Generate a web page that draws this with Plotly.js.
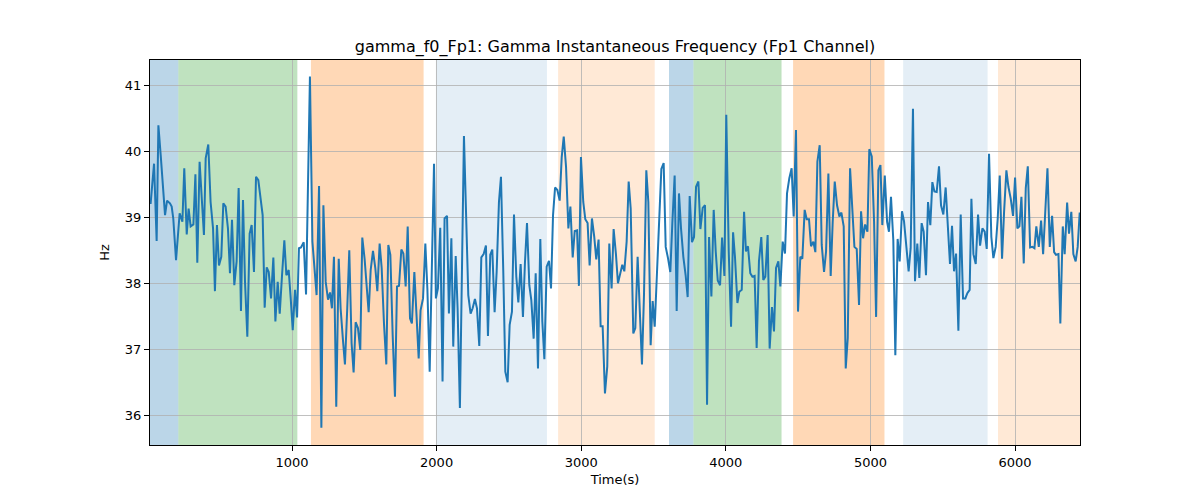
<!DOCTYPE html>
<html>
<head>
<meta charset="utf-8">
<script src="https://cdn.plot.ly/plotly-3.0.1.min.js"></script>
<style>html,body{margin:0;padding:0;background:#fff;}#chart{width:1200px;height:500px;}</style>
</head>
<body>
<div id="chart"></div>
<script>
// ---- data ----
const time = [
22,46,64,76,92,106,122,136,156,168,179,198,214,223,242,255,272,285,299,318,332,345,361,391,403,421,437,454,467,481,495,511,525,541,557,571,585,601,617,631,647,661,675,691,707,721,737,751,767,783,797,811,825,839,855,871,885,901,915,931,947,961,977,991,1005,1021,1035,1048,1062,1081,1097,1124,
1141,1170,1187,1203,1217,1233,1249,1263,1276,1290,1306,1323,1336,1353,1366,1382,1396,1412,1426,1440,1456,1472,1486,1502,1516,1530,1544,1560,1576,1590,1606,1620,1636,1652,1666,1680,1696,1712,1726,1740,1756,1770,1786,1800,1816,1829,1846,1859,1876,1889,1906,1922,1936,1952,1968,1982,1995,2009,2025,2041,2055,2072,2085,2102,2115,2132,2145,2161,2175,2189,
2219,2235,2249,2265,2279,2295,2309,2325,2341,2355,2371,2385,2401,2415,2431,2445,2461,2475,2491,2505,2521,2535,2551,2565,2581,2597,2611,2625,2641,2655,2671,2685,2701,2717,2731,2745,2761,2777,2791,2805,2819,2835,2851,2865,2879,2895,2911,2925,2941,2955,2971,2984,2998,3014,3028,3044,3058,3074,3090,3104,3120,3134,3148,3164,3180,3194,3210,3224,3240,3254,3268,
3284,3298,3314,3328,3342,3360,3374,3390,3404,3420,3434,3450,3464,3480,3494,3508,3524,3538,3554,3570,3584,3600,3616,3630,3646,3660,3676,3690,3706,3722,3736,3750,3766,3780,3794,3810,3824,3840,3856,3870,3884,3900,3916,3930,3944,3960,3974,3990,4003,4020,4036,4050,4063,4080,4093,4110,4126,4139,4153,4169,4183,4199,4213,4229,4245,4259,4273,4289,4303,4319,4333,
4347,4363,4377,4393,4409,4423,4439,4455,4469,4485,4499,4515,4529,4545,4559,4575,4589,4605,4619,4633,4649,4663,4679,4693,4709,4725,4739,4753,4769,4785,4799,4815,4829,4843,4859,4875,4889,4905,4921,4935,4949,4963,4979,4992,5009,5025,5039,5055,5069,5082,5099,5115,5128,5142,5158,5172,5188,5202,5218,5232,5248,5264,5278,5294,5308,5324,5338,5354,5368,5384,5398,
5414,5428,5442,5458,5474,5488,5504,5520,5534,5550,5564,5578,5592,5608,5624,5640,5656,5670,5686,5698,5712,5728,5744,5758,5774,5790,5804,5820,5836,5850,5866,5880,5894,5910,5924,5940,5954,5970,5986,6000,6016,6030,6044,6060,6074,6088,6104,6120,6134,6147,6164,6180,6194,6210,6224,6240,6256,6270,6283,6300,6313,6330,6343,6360,6373,6389,6403,6419,6433,6447
];
const hz = [
39.2,39.81,38.64,40.39,39.94,39.44,39.03,39.25,39.21,39.16,38.98,38.35,38.78,39.06,38.93,39.74,38.74,39.13,38.86,38.89,39.65,38.31,39.84,38.73,39.89,40.10,39.23,38.83,37.88,38.88,38.27,38.40,39.21,39.16,38.83,38.15,38.96,37.97,38.33,39.44,37.58,39.26,38.02,37.19,38.75,38.88,38.17,39.61,39.56,39.23,39.03,37.63,38.24,38.17,37.77,38.39,37.42,38.02,37.54,38.12,38.65,38.12,38.20,37.77,37.29,37.90,37.48,38.53,38.54,38.62,37.83,41.13,
38.63,37.82,39.47,35.81,39.18,38.02,37.75,37.86,37.62,38.40,36.13,38.37,37.62,37.12,36.77,37.62,38.50,37.09,36.65,37.41,37.32,36.99,38.69,38.37,37.97,37.56,38.20,38.49,38.23,37.88,38.60,38.23,37.39,36.77,38.58,38.43,37.22,36.28,37.95,37.96,38.51,38.45,37.95,38.86,37.47,37.39,38.17,37.67,36.86,37.59,37.77,38.60,37.92,36.66,38.48,39.81,37.77,37.92,38.84,36.51,38.98,39.02,37.54,38.68,37.04,38.41,37.62,36.11,38.17,40.23,
37.82,37.54,37.62,37.76,37.62,37.05,38.39,38.44,38.57,37.20,38.43,38.51,37.56,38.17,39.23,39.61,38.17,36.66,36.50,37.37,37.57,39.04,38.10,37.71,38.29,37.49,38.32,38.91,37.97,37.74,37.16,38.15,36.71,38.67,37.42,36.85,38.25,38.34,37.92,39.03,39.45,39.41,39.25,39.91,40.22,39.76,38.83,39.16,38.39,38.79,38.80,37.96,39.91,39.23,38.97,38.91,38.27,38.98,38.70,38.36,38.66,37.35,37.35,36.33,36.74,38.60,37.92,38.82,38.44,38.00,38.13,
38.28,38.18,38.63,39.54,39.13,37.24,37.32,38.40,37.57,36.77,37.82,39.71,39.23,37.06,37.73,37.34,38.17,38.93,39.73,39.82,38.55,38.38,38.17,38.91,39.63,37.58,39.36,38.83,38.40,38.12,37.79,39.32,38.62,38.70,39.46,39.54,38.82,39.14,39.18,36.16,38.70,37.80,39.11,38.48,38.04,37.97,38.69,38.11,40.55,38.48,37.34,38.77,38.40,37.70,37.87,37.90,39.08,38.48,38.56,38.15,38.10,38.11,37.02,38.33,38.70,38.05,38.10,38.73,37.01,37.64,37.27,
38.23,38.33,37.95,38.63,38.45,39.36,39.59,39.74,39.01,40.32,37.57,38.40,38.37,39.11,38.97,38.97,38.56,38.63,38.47,39.84,40.09,38.58,38.17,38.48,39.66,38.11,38.93,39.54,39.18,39.01,39.07,38.86,36.71,37.17,39.74,38.98,38.55,38.52,37.67,39.09,38.68,38.89,38.78,40.03,39.92,38.93,37.49,39.71,39.79,38.88,39.63,38.93,38.78,39.31,38.65,36.91,38.67,38.33,39.09,38.94,38.53,38.18,38.53,40.64,38.03,38.60,38.08,38.91,38.78,38.12,39.23,
38.88,39.53,39.39,39.38,39.77,39.18,39.04,39.45,38.83,38.29,38.87,38.18,38.45,37.28,39.04,37.77,37.77,37.85,37.90,39.28,38.44,38.29,39.04,38.57,38.83,38.78,38.52,39.96,38.70,38.38,38.55,38.98,39.63,38.37,39.08,39.71,39.46,39.28,39.02,39.60,38.83,38.86,39.31,38.30,39.44,39.77,38.54,38.55,38.53,38.86,38.55,38.95,38.44,39.19,39.74,38.55,39.02,38.47,38.43,38.44,37.39,38.86,38.44,39.22,38.75,39.08,38.44,38.33,38.55,39.07
];
// shaded segments (start, end, band kind)
const spanStart = [18, 214, 1131, 1995, 2840, 3607, 3776, 4465, 5226, 5882];
const spanEnd   = [214, 1037, 1910, 2763, 3508, 3776, 4385, 5097, 5810, 6449];
const spanKind  = ['blue', 'green', 'orange', 'lightblue', 'lightorange', 'blue', 'green', 'orange', 'lightblue', 'lightorange'];
const xTicks = [1000, 2000, 3000, 4000, 5000, 6000];
const yTicks = [36, 37, 38, 39, 40, 41];
const titleText = 'gamma_f0_Fp1: Gamma Instantaneous Frequency (Fp1 Channel)';
const xLabel = 'Time(s)';
const yLabel = 'Hz';

// ---- styling ----
const kindColor = {
  blue: 'rgba(31,119,180,0.30)',
  green: 'rgba(44,160,44,0.30)',
  orange: 'rgba(255,127,14,0.30)',
  lightblue: 'rgba(31,119,180,0.12)',
  lightorange: 'rgba(255,127,14,0.17)'
};
const shapes = spanStart.map((s, i) => ({
  type: 'rect', xref: 'x', yref: 'paper',
  x0: s, x1: spanEnd[i], y0: 0, y1: 1,
  fillcolor: kindColor[spanKind[i]],
  line: {width: 0},
  layer: 'below'
}));

const font = {family: 'DejaVu Sans, sans-serif', color: '#000'};

const trace = {
  x: time, y: hz, type: 'scatter', mode: 'lines',
  line: {color: '#1f77b4', width: 2},
  hoverinfo: 'skip'
};

const axisCommon = {
  showline: true, mirror: true, linecolor: '#000', linewidth: 1,
  ticks: 'outside', ticklen: 5, tickwidth: 1, tickcolor: '#000',
  showgrid: true, gridcolor: '#b0b0b0', gridwidth: 0.8,
  zeroline: false,
  tickfont: Object.assign({size: 13}, font)
};

const layout = {
  width: 1200, height: 500,
  margin: {l: 150, r: 120, t: 60, b: 55, autoexpand: false},
  paper_bgcolor: '#fff', plot_bgcolor: '#fff',
  showlegend: false,
  font: font,
  title: {text: titleText, x: 0.5125, xref: 'container', xanchor: 'center',
          y: 0.908, yref: 'container', yanchor: 'middle',
          font: Object.assign({size: 16}, font)},
  xaxis: Object.assign({}, axisCommon, {
    range: [18, 6449], tickvals: xTicks, ticktext: xTicks.map(String),
    title: {text: xLabel, standoff: 6, font: Object.assign({size: 13}, font)}
  }),
  yaxis: Object.assign({}, axisCommon, {
    range: [35.55, 41.38], tickvals: yTicks, ticktext: yTicks.map(String),
    title: {text: yLabel, standoff: 12, font: Object.assign({size: 13}, font)}
  }),
  shapes: shapes
};

Plotly.newPlot('chart', [trace], layout, {staticPlot: true, displayModeBar: false});
</script>
</body>
</html>
